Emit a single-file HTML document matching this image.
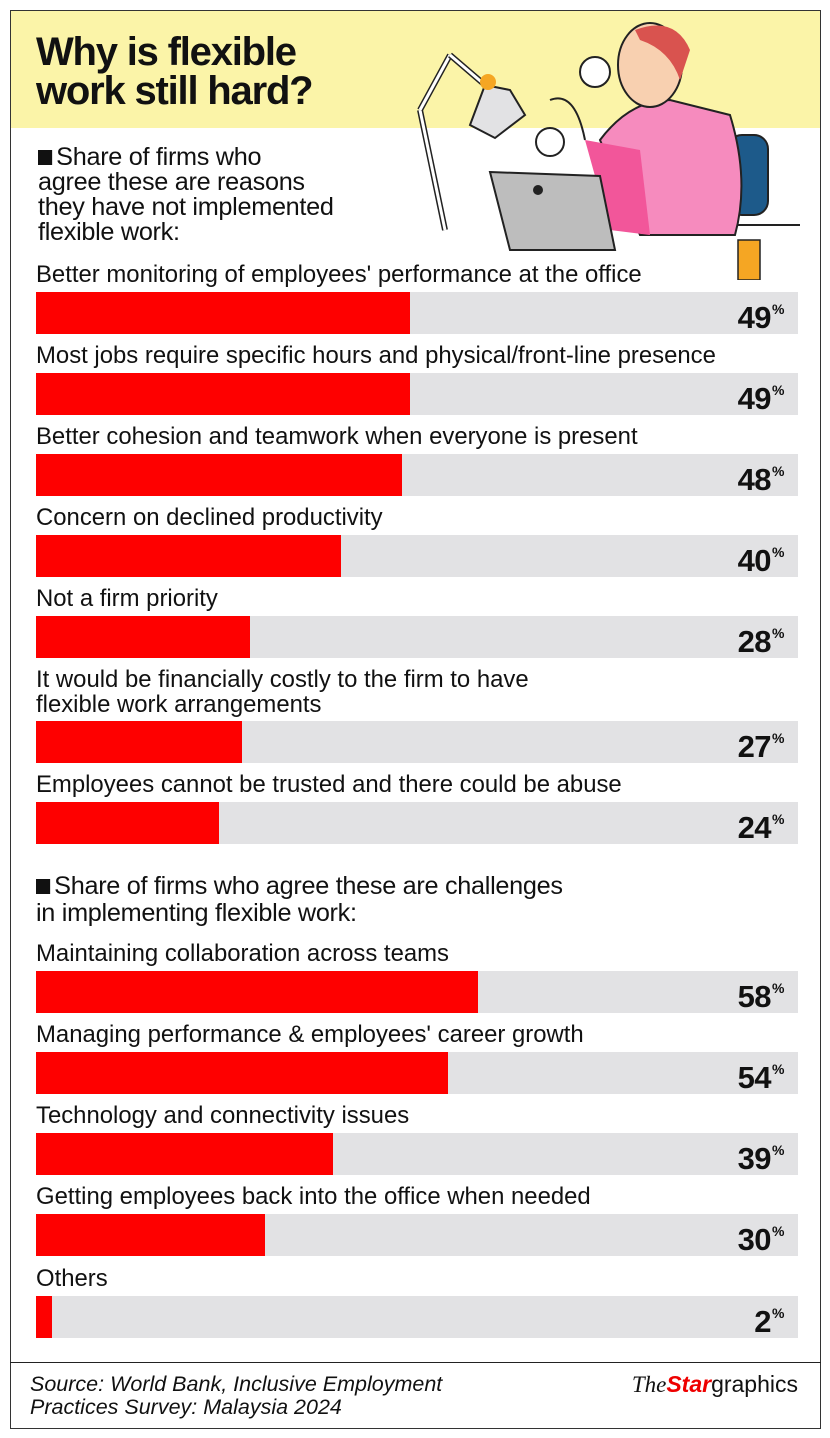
<!DOCTYPE html>
<html><head><meta charset="utf-8"><style>
*{margin:0;padding:0;box-sizing:border-box}
body{width:830px;height:1438px;background:#fff;position:relative;font-family:"Liberation Sans",sans-serif;color:#111;overflow:hidden}
.frame{position:absolute;left:10px;top:10px;width:811px;height:1419px;border:1.5px solid #333}
.head{position:absolute;left:11px;top:11px;width:809px;height:117px;background:#fbf4a8}
.t{position:absolute;left:36px;font-size:40px;font-weight:bold;letter-spacing:-1.2px;line-height:40px}
.sub{position:absolute;left:38px;font-size:25px;line-height:25px;letter-spacing:-.3px;transform:scaleX(1.01);transform-origin:left}
.lab{position:absolute;left:36px;font-size:23.9px;line-height:25px;white-space:nowrap}
.bar{position:absolute;left:36px;width:762px;height:42px;background:#e2e2e4}
.bar i{position:absolute;left:0;top:0;height:42px;background:#fe0000}
.bar b{position:absolute;right:14px;top:2px;font-size:31px;line-height:31px;letter-spacing:-.5px}
.bar b sup{font-size:14px;vertical-align:14px;margin-left:1px}
.sq{display:inline-block;width:14px;height:15px;background:#111;margin-right:4px}
.foot{position:absolute;left:10px;top:1362px;width:811px;border-top:1.5px solid #222}
.src{position:absolute;left:30px;top:1373px;font-size:21.5px;font-style:italic;line-height:23px}
.logo{position:absolute;right:32px;top:1371px;font-size:23px}
</style></head><body>
<div class="head"></div>
<div class="frame"></div>
<div class="t" style="top:32px">Why is flexible</div>
<div class="t" style="top:71px">work still hard?</div>
<svg style="position:absolute;left:400px;top:20px" width="400" height="260">
<line x1="20" y1="90" x2="45" y2="210" stroke="#222" stroke-width="6"/><line x1="20" y1="90" x2="45" y2="210" stroke="#fff" stroke-width="3"/>
<line x1="20" y1="90" x2="50" y2="35" stroke="#222" stroke-width="6"/><line x1="20" y1="90" x2="50" y2="35" stroke="#fff" stroke-width="3"/>
<line x1="50" y1="35" x2="85" y2="65" stroke="#222" stroke-width="6"/><line x1="50" y1="35" x2="85" y2="65" stroke="#fff" stroke-width="3"/>
<polygon points="85,65 70,105 95,118 125,95 110,70" fill="#e2e2e4" stroke="#222" stroke-width="2"/>
<circle cx="88" cy="62" r="8" fill="#f5a623"/>
<line x1="170" y1="205" x2="400" y2="205" stroke="#222" stroke-width="2"/>
<rect x="328" y="115" width="40" height="80" rx="14" fill="#1d5a8a" stroke="#222" stroke-width="2"/>
<path d="M200 120 Q230 80 270 80 L330 95 Q350 160 335 215 L240 215 Z" fill="#f68bbe" stroke="#222" stroke-width="2"/>
<path d="M185 120 L240 130 L250 215 L210 210 Z" fill="#f2569a"/>
<ellipse cx="250" cy="45" rx="32" ry="42" fill="#f8d0b0" stroke="#222" stroke-width="2"/>
<path d="M235 10 Q275 -5 290 30 L280 60 Q270 30 240 20 Z" fill="#d9534f"/>
<path d="M150 80 Q175 70 185 120" fill="none" stroke="#222" stroke-width="2"/>
<path d="M90 152 L200 156 L215 230 L110 230 Z" fill="#bdbdbd" stroke="#222" stroke-width="2"/>
<circle cx="138" cy="170" r="5" fill="#222"/>
<circle cx="195" cy="52" r="15" fill="#fff" stroke="#222" stroke-width="2"/>
<circle cx="150" cy="122" r="14" fill="#fff" stroke="#222" stroke-width="2"/>
<path d="M338 220 h22 v40 h-22 z" fill="#f5a623" stroke="#222" stroke-width="1.5"/>
</svg>
<div class="sub" style="top:145px"><span class="sq"></span>Share of firms who<br>agree these are reasons<br>they have not implemented<br>flexible work:</div>

<div class="lab" style="top:262px">Better monitoring of employees' performance at the office</div>
<div class="bar" style="top:292px"><i style="width:374px"></i><b>49<sup>%</sup></b></div>
<div class="lab" style="top:343px">Most jobs require specific hours and physical/front-line presence</div>
<div class="bar" style="top:373px"><i style="width:374px"></i><b>49<sup>%</sup></b></div>
<div class="lab" style="top:424px">Better cohesion and teamwork when everyone is present</div>
<div class="bar" style="top:454px"><i style="width:366px"></i><b>48<sup>%</sup></b></div>
<div class="lab" style="top:505px">Concern on declined productivity</div>
<div class="bar" style="top:535px"><i style="width:305px"></i><b>40<sup>%</sup></b></div>
<div class="lab" style="top:586px">Not a firm priority</div>
<div class="bar" style="top:616px"><i style="width:214px"></i><b>28<sup>%</sup></b></div>
<div class="lab" style="top:667px">It would be financially costly to the firm to have<br>flexible work arrangements</div>
<div class="bar" style="top:721px"><i style="width:206px"></i><b>27<sup>%</sup></b></div>
<div class="lab" style="top:772px">Employees cannot be trusted and there could be abuse</div>
<div class="bar" style="top:802px"><i style="width:183px"></i><b>24<sup>%</sup></b></div>

<div class="sub" style="top:873px;left:36px;line-height:27px"><span class="sq"></span>Share of firms who agree these are challenges<br>in implementing flexible work:</div>

<div class="lab" style="top:941px">Maintaining collaboration across teams</div>
<div class="bar" style="top:971px"><i style="width:442px"></i><b>58<sup>%</sup></b></div>
<div class="lab" style="top:1022px">Managing performance &amp; employees' career growth</div>
<div class="bar" style="top:1052px"><i style="width:412px"></i><b>54<sup>%</sup></b></div>
<div class="lab" style="top:1103px">Technology and connectivity issues</div>
<div class="bar" style="top:1133px"><i style="width:297px"></i><b>39<sup>%</sup></b></div>
<div class="lab" style="top:1184px">Getting employees back into the office when needed</div>
<div class="bar" style="top:1214px"><i style="width:229px"></i><b>30<sup>%</sup></b></div>
<div class="lab" style="top:1266px">Others</div>
<div class="bar" style="top:1296px"><i style="width:16px"></i><b>2<sup>%</sup></b></div>

<div class="foot"></div>
<div class="src">Source: World Bank, Inclusive Employment<br>Practices Survey: Malaysia 2024</div>
<div class="logo"><i style="font-family:'Liberation Serif',serif">The</i><b style="color:#e00;font-style:italic">Star</b>graphics</div>
</body></html>
